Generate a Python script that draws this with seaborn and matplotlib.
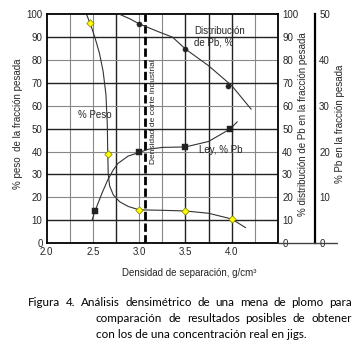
import matplotlib
matplotlib.use("Agg")
import matplotlib.pyplot as plt
import numpy as np
import pandas as pd
import seaborn as sns
from matplotlib import font_manager
from matplotlib.lines import Line2D

# --- datos ---
dens_peso = [2.47, 2.66, 3.0, 3.5, 4.0]
peso = [96, 39, 14.5, 14, 10.5]

dens_ley = [2.52, 3.0, 3.5, 3.98]
ley_pb = [6.9, 19.8, 21.0, 24.9]          # eje %Pb (0-50)

dens_dist = [3.0, 3.5, 3.96]
dist_pb = [95.8, 84.8, 68.8]              # eje distribucion (0-100)

# trazos de las curvas (puntos leidos sobre la linea dibujada)
peso_cx = [2.43, 2.47, 2.52, 2.57, 2.61, 2.64, 2.655, 2.66, 2.665, 2.68, 2.72,
           2.79, 2.88, 3.0, 3.25, 3.5, 3.75, 4.0, 4.15]
peso_cy = [100, 96, 90, 83, 75, 65, 52, 39, 30, 25, 21,
           18, 16, 14.5, 14.3, 14, 13, 10.5, 6.7]

ley_cx = [2.49, 2.52, 2.60, 2.66, 2.72, 2.77, 2.88, 3.0, 3.1, 3.25, 3.5,
          3.75, 3.98, 4.06]
ley_cy = [5.0, 6.9, 11.0, 13.8, 16.0, 17.4, 19.0, 19.8, 20.5, 20.9, 21.0,
          22.2, 24.9, 26.5]

dist_cx = [2.76, 2.9, 3.0, 3.2, 3.36, 3.5, 3.75, 4.0, 4.21]
dist_cy = [100.5, 98, 95.8, 92.5, 90, 84.8, 77.5, 68.8, 58.5]

x_ticks = [2.0, 2.25, 2.5, 2.75, 3.0, 3.25, 3.5, 3.75, 4.0, 4.25]
x_labels = ["2.0", "", "2.5", "", "3.0", "", "3.5", "", "4.0", ""]
corte = 3.06

caption = [
    "Figura 4. Análisis densimétrico de una mena de plomo para",
    "comparación de resultados posibles de obtener",
    "con los de una concentración real en jigs.",
]

sns.set_theme(style="white")
names = {f.name for f in font_manager.fontManager.ttflist}
narrow = "Liberation Sans Narrow" if "Liberation Sans Narrow" in names else "Liberation Sans"
plt.rcParams["font.family"] = [narrow, "DejaVu Sans"]

W, H = 363, 351
fig = plt.figure(figsize=(W / 100, H / 100), dpi=100)
L, R, B, T = 46.7, 278, 243, 14.3
ax = fig.add_axes([L / W, 1 - B / H, (R - L) / W, (B - T) / H])
ax.set_xlim(2.0, 4.5)
ax.set_ylim(0, 100)

# rejilla
for xv in x_ticks[1:] + [4.5]:
    dark = xv in (2.75, 3.5, 3.75, 4.0)
    ax.axvline(xv, color="#222" if dark else "#888", lw=1.0 if dark else 0.8, zorder=0)
for yv in range(10, 100, 10):
    dark = yv % 20 == 10
    ax.axhline(yv, color="#222" if dark else "#888", lw=1.0 if dark else 0.8, zorder=0)

ax.axvline(corte, color="black", lw=2.0, ls=(0, (3, 1.2)), zorder=1)

ax.set_xticks(x_ticks)
ax.set_xticklabels(x_labels)
ax.set_yticks(range(0, 101, 10))
ax.tick_params(length=0, labelsize=7, pad=3)
for s in ax.spines.values():
    s.set_color("black")
    s.set_linewidth(1.3)

ax2 = ax.twinx()
ax2.set_ylim(0, 100)
ax2.set_yticks(range(0, 101, 10))
ax2.tick_params(length=0, labelsize=7, pad=3)
for s in ax2.spines.values():
    s.set_visible(False)

ax3 = ax.twinx()
ax3.set_ylim(0, 50)
ax3.set_yticks(range(0, 51, 10))
ax3.spines["right"].set_position(("axes", (315 - L) / (R - L)))
for k, s in ax3.spines.items():
    s.set_visible(k == "right")
ax3.spines["right"].set_color("black")
ax3.spines["right"].set_linewidth(1.6)
ax3.tick_params(length=0, labelsize=7, pad=3)

line_kw = dict(color="#333333", lw=0.8, sort=False, estimator=None, legend=False)
sns.lineplot(x=peso_cx, y=peso_cy, ax=ax, **line_kw)
sns.lineplot(x=dist_cx, y=dist_cy, ax=ax2, **line_kw)
sns.lineplot(x=ley_cx, y=ley_cy, ax=ax3, **line_kw)

sns.scatterplot(x=dens_peso, y=peso, ax=ax, marker="D", s=14, color="#ffff00",
                edgecolor="#7a7a00", linewidth=0.5, zorder=5, clip_on=False)
sns.scatterplot(x=dens_dist, y=dist_pb, ax=ax2, marker="o", s=14, color="#222",
                edgecolor="#222", linewidth=0.3, zorder=5)
sns.scatterplot(x=dens_ley, y=ley_pb, ax=ax3, marker="s", s=14, color="#222",
                edgecolor="#222", linewidth=0.3, zorder=5)
for a in (ax, ax2, ax3):
    a.set_xlim(2.0, 4.5)

ax.text(2.34, 56, "% Peso", fontsize=7, va="center", ha="left")
ax.text(3.59, 91.2, "Distribución", fontsize=7, va="baseline", ha="left")
ax.text(3.59, 86.4, "de Pb, %", fontsize=7, va="baseline", ha="left")
ax.text(3.65, 40.6, "Ley, % Pb", fontsize=7, va="center", ha="left")
ax.text(3.15, 57.4, "Densidad de corte industrial", fontsize=6, rotation=90,
        va="center", ha="center")

ax.set_xlabel("Densidad de separación, g/cm³", fontsize=7)
ax.xaxis.set_label_coords((189 - L) / (R - L), (B - 268) / (B - T))
ax.set_ylabel("% peso  de la fracción pesada", fontsize=7)
ax.yaxis.set_label_coords((23 - L) / (R - L), 0.52)
ax2.set_ylabel("% distribución de Pb en la fracción pesada", fontsize=7, rotation=90)
ax2.yaxis.set_label_coords((298 - L) / (R - L), 0.52)
ax3.set_ylabel("% Pb en la fracción pesada", fontsize=7, rotation=90)
ax3.yaxis.set_label_coords((335 - L) / (R - L), 0.52)

fig.add_artist(Line2D([R / W, 337 / W], [1 - B / H] * 2, color="#444", lw=1.0))

# pie de figura, justificado
cap_kw = dict(fontsize=8.4, family=["Lato", "DejaVu Sans"], va="center", color="black")


def justify(text, x0, x1, y):
    words = text.split()
    objs = [fig.text(0, y, w, **cap_kw) for w in words]
    fig.canvas.draw()
    r = fig.canvas.get_renderer()
    widths = [o.get_window_extent(r).width / fig.bbox.width for o in objs]
    gap = (x1 - x0 - sum(widths)) / (len(words) - 1)
    x = x0
    for o, w in zip(objs, widths):
        o.set_x(x)
        x += w + gap


justify(caption[0], 28 / W, 352 / W, 1 - 303 / H)
justify(caption[1], 96 / W, 352 / W, 1 - 319 / H)
fig.text(96 / W, 1 - 335 / H, caption[2], **cap_kw)

fig.savefig("out.png", dpi=100)
